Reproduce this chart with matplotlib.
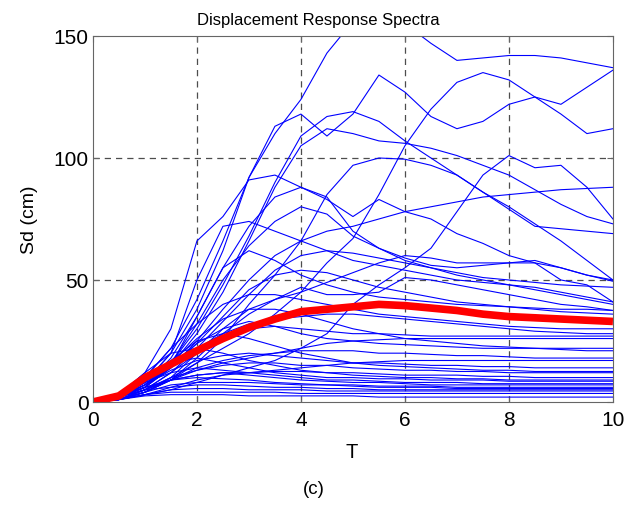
import numpy as np
import matplotlib.pyplot as plt

plt.rcParams['font.family'] = ['Liberation Sans', 'DejaVu Sans']

# period grid (s)
T = np.arange(0, 10.01, 0.5)

# displacement spectra of the records (cm), read at T = 0, 0.5, ... 10
records = [
    [0, 3, 10, 22, 42, 66, 92, 110, 124, 143, 156, 162, 155, 147, 140, 141, 142, 142, 141, 139, 137],
    [0, 2, 8, 20, 38, 62, 92, 113, 118, 109, 118, 134, 127, 117, 112, 115, 122, 125, 122, 129, 136],
    [0, 2, 5, 10, 16, 22, 28, 36, 45, 57, 67, 85, 105, 120, 131, 135, 132, 125, 118, 110, 112],
    [0, 2, 7, 16, 30, 48, 68, 90, 109, 117, 119, 115, 107, 100, 93, 86, 79, 72, 71, 70, 69],
    [0, 2, 6, 15, 28, 45, 66, 88, 105, 112, 110, 107, 106, 104, 101, 97, 93, 87, 81, 76, 73],
    [0, 1, 4, 9, 16, 26, 40, 52, 66, 85, 97, 100, 99.5, 97, 93, 86, 80, 73, 66, 58, 50],
    [0, 1, 3, 5, 8, 11, 14, 17, 22, 28, 40, 48, 55, 63, 78, 93, 101, 96, 97, 88, 75],
    [0, 2, 6, 14, 25, 38, 50, 60, 66, 70, 72, 75, 78, 80, 82, 84, 85, 86, 87, 87.5, 88],
    [0, 3, 12, 30, 66, 76, 91, 93, 88, 83, 76, 83, 78, 75, 69, 65, 60, 57, 55, 52, 50],
    [0, 2, 8, 20, 50, 72, 74, 70, 66, 62, 58, 56, 54, 52, 50, 49, 48, 47, 45, 43, 41],
    [0, 2, 6, 15, 35, 55, 62, 58, 52, 48, 45, 43, 42, 41, 40, 39.5, 39, 38.5, 38, 38, 37.5],
    [0, 2, 7, 18, 35, 55, 72, 84, 88, 84, 70, 63, 59, 56, 55, 56, 57, 58, 55, 52, 49.5],
    [0, 2, 6, 16, 32, 50, 64, 74, 80, 77, 68, 63, 58, 55, 53, 51, 50, 49, 48, 47.5, 47],
    [0, 1, 4, 10, 20, 30, 38, 42, 45, 49, 53, 57, 60, 59, 57, 57, 57, 57, 50, 48, 41],
    [0, 1, 4, 9, 18, 28, 36, 42, 47, 44, 44, 45, 51, 50, 48, 46, 44, 42, 40, 39, 37.5],
    [0, 2, 6, 14, 22, 28, 32, 34, 35, 36, 36, 35, 34, 33, 32, 31, 30, 29, 28.5, 28, 28],
    [0, 1, 5, 12, 20, 26, 30, 31, 30, 29, 28, 28, 27.5, 27, 27, 27, 27, 27, 27, 27, 27],
    [0, 2, 7, 15, 24, 30, 33, 31, 28, 26, 25, 24, 23.5, 23, 22.5, 22, 22, 22, 22, 22, 22],
    [0, 1, 4, 9, 14, 17, 19, 20, 21, 21, 21, 20, 20, 19.5, 19, 19, 18.5, 18, 18, 18, 18],
    [0, 2, 7, 13, 17, 19, 20, 19, 18, 17, 16, 16, 15.5, 15, 15, 14.5, 14.5, 14, 14, 14, 14],
    [0, 1, 5, 10, 13, 15, 16, 16, 15, 15, 14, 13.5, 13, 13, 12.5, 12.5, 12, 12, 12, 12, 12],
    [0, 2, 6, 9, 11, 12, 12, 12.5, 12.5, 12, 12, 11.5, 11, 11, 11, 10.5, 10.5, 10, 10, 10, 10],
    [0, 3, 10, 16, 18, 16, 14, 12, 11, 10, 10, 9.5, 9.5, 9, 9, 9, 8.5, 8.5, 8.5, 8.5, 8.5],
    [0, 2, 8, 12, 14, 13, 12, 11, 10, 9, 9, 8.5, 8, 8, 8, 7.5, 7.5, 7.5, 7.5, 7.5, 7.5],
    [0, 1, 5, 9, 11, 12, 11, 10, 9, 8.5, 8, 8, 7.5, 7, 7, 7, 7, 7, 7, 7, 7],
    [0, 2, 6, 9, 10, 9.5, 9, 8, 7.5, 7, 7, 6.5, 6.5, 6.5, 6, 6, 6, 6, 6, 6, 6],
    [0, 1, 4, 7, 8, 8, 8, 7.5, 7, 7, 6.5, 6, 6, 6, 5.5, 5.5, 5.5, 5.5, 5.5, 5.5, 5.5],
    [0, 2, 5, 6, 7, 7, 6.5, 6, 6, 5.5, 5.5, 5, 5, 5, 5, 5, 5, 5, 5, 5, 5],
    [0, 1, 3, 5, 5.5, 5.5, 5, 5, 5, 4.5, 4.5, 4.5, 4.5, 4.5, 4.5, 4.5, 4.5, 4.5, 4.5, 4.5, 4.5],
    [0, 1, 3, 4, 4, 4, 4, 4, 3.5, 3.5, 3.5, 3.5, 3.5, 3.5, 3.5, 3.5, 3.5, 3.5, 3.5, 3.5, 3.5],
    [0, 3, 12, 20, 22, 20, 17, 15, 13, 12, 11, 10.5, 10, 10, 9.5, 9.5, 9, 9, 9, 9, 9],
    [0, 2, 9, 17, 25, 28, 26, 23, 20, 18, 16, 15, 14.5, 14, 13.5, 13, 13, 12.5, 12.5, 12.5, 12.5],
    [0, 2, 8, 16, 26, 34, 38, 38, 36, 33, 30, 28, 26, 25, 24, 23, 22.5, 22, 21.5, 21, 21],
    [0, 3, 10, 22, 32, 40, 44, 44, 42, 40, 38, 36, 35, 34, 33, 32, 31, 30.5, 30, 30, 30],
    [0, 2, 7, 14, 24, 35, 46, 52, 54, 53, 50, 47, 45, 43, 41, 40, 39, 38, 37, 36.5, 36],
    [0, 1, 5, 12, 22, 33, 44, 54, 60, 62, 61, 59, 57, 55, 52, 50, 48, 46, 44, 42, 40],
    [0, 2, 5, 9, 13, 16, 18, 20, 22, 24, 25, 25.5, 26, 26, 26, 26, 26, 26, 26, 26, 26],
    [0, 1, 3, 6, 9, 11, 12, 13, 14, 15, 16, 16.5, 17, 17, 17, 17, 17, 17, 17, 17, 17],
    [0, 1, 2.5, 3, 3, 3, 2.5, 2.5, 2.5, 2.5, 2.5, 2, 2, 2, 2, 2, 2, 2, 2, 2, 2],
]

# mean spectrum (red)
meanSd = [0, 2.5, 10, 15.5, 21, 26, 30.5, 34, 37, 38, 39, 40, 39.5, 38.5, 37.5, 36, 35, 34.5, 34, 33.5, 33]

fig = plt.figure(figsize=(6.28, 5.06), dpi=100)
ax = fig.add_axes([0.148, 0.2036, 0.828, 0.7233])

for sd in records:
    ax.plot(T, sd, color='b', lw=0.8)
ax.plot(T, meanSd, color='r', lw=5.5, solid_capstyle='butt')

ax.set_xlim(0, 10)
ax.set_ylim(0, 150)
ax.set_xticks([0, 2, 4, 6, 8, 10])
ax.set_yticks([0, 50, 100, 150])

# dashed grid, matlab style
for xg in [2, 4, 6, 8]:
    ax.axvline(xg, color='0.3', lw=0.9, dashes=(5, 4), zorder=0.5)
for yg in [50, 100]:
    ax.axhline(yg, color='0.3', lw=0.9, dashes=(5, 4), zorder=0.5)

ax.tick_params(direction='in', top=True, right=True, labelsize=15, length=4, color='0.4')
ax.tick_params(axis='x', pad=6)
ax.tick_params(axis='y', pad=3)
for s in ax.spines.values():
    s.set_color('0.4')

fig.text(318 / 628, 1 - 20 / 506, "Displacement Response Spectra", ha='center', va='center', fontsize=12)
fig.text(30 / 628, 1 - 220 / 506, "Sd (cm)", rotation=90, ha='center', va='center', fontsize=14)
fig.text(352 / 628, 1 - 453 / 506, "T", ha='center', va='center', fontsize=14.5)
fig.text(314 / 628, 1 - 490 / 506, "(c)", ha='center', va='center', fontsize=13.5)

plt.savefig('out.png')
